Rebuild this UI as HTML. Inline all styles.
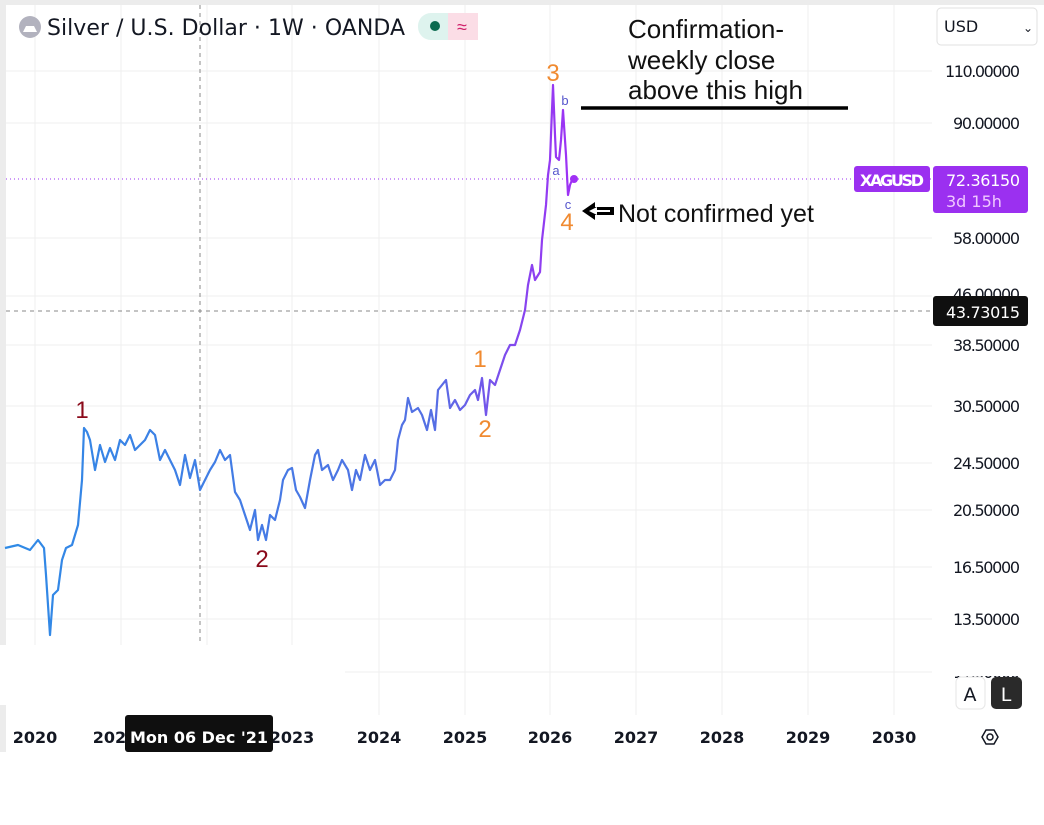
<!DOCTYPE html>
<html><head><meta charset="utf-8"><style>
body{margin:0;width:1044px;height:825px;background:#fff;overflow:hidden;font-family:"Liberation Sans",sans-serif}
</style></head><body>
<svg width="1044" height="825" xmlns="http://www.w3.org/2000/svg" style="position:absolute;left:0;top:0">
<defs><linearGradient id="g" gradientUnits="userSpaceOnUse" x1="0" y1="0" x2="575" y2="0">
<stop offset="0" stop-color="#2e8be6"/><stop offset="0.75" stop-color="#5470e4"/><stop offset="0.9" stop-color="#8447ee"/><stop offset="1" stop-color="#a030f5"/></linearGradient></defs>
<rect x="0" y="0" width="1044" height="5" fill="#ececec"/>
<rect x="0" y="0" width="6" height="645" fill="#ececec"/>
<rect x="0" y="705" width="6" height="47" fill="#ececec"/>
<g stroke="#efefef" stroke-width="1">
<line x1="35" y1="5" x2="35" y2="645"/><line x1="121" y1="5" x2="121" y2="645"/><line x1="207" y1="5" x2="207" y2="645"/>
<line x1="292" y1="5" x2="292" y2="645"/><line x1="379" y1="5" x2="379" y2="715"/><line x1="465" y1="5" x2="465" y2="715"/>
<line x1="550" y1="5" x2="550" y2="715"/><line x1="636" y1="5" x2="636" y2="715"/><line x1="722" y1="5" x2="722" y2="715"/>
<line x1="808" y1="5" x2="808" y2="715"/><line x1="894" y1="5" x2="894" y2="715"/>
<line x1="6" y1="71" x2="932" y2="71"/><line x1="6" y1="123" x2="932" y2="123"/><line x1="6" y1="238" x2="932" y2="238"/>
<line x1="6" y1="296" x2="932" y2="296"/><line x1="6" y1="345" x2="932" y2="345"/><line x1="6" y1="406" x2="932" y2="406"/>
<line x1="6" y1="463" x2="932" y2="463"/><line x1="6" y1="510" x2="932" y2="510"/><line x1="6" y1="567" x2="932" y2="567"/>
<line x1="6" y1="619" x2="932" y2="619"/><line x1="345" y1="672" x2="932" y2="672"/>
</g>
<line x1="200" y1="5" x2="200" y2="645" stroke="#888" stroke-dasharray="4,4"/>
<line x1="6" y1="311" x2="932" y2="311" stroke="#888" stroke-dasharray="4,4"/>
<line x1="6" y1="179" x2="932" y2="179" stroke="#9b30f0" stroke-dasharray="1,3"/>
<polyline fill="none" stroke="url(#g)" stroke-width="2.2" stroke-linejoin="round" points="5,548 18,545 30,550 38,540 44,548 46,575 50,635 53,595 58,590 62,560 66,548 72,545 78,525 82,480 84,428 87,432 90,440 95,470 100,445 105,462 110,448 115,460 120,440 125,445 130,435 135,450 140,445 145,440 150,430 155,435 160,460 165,450 170,460 175,470 180,485 185,455 190,478 195,460 200,490 205,480 210,470 215,462 220,450 225,460 230,455 235,492 240,500 245,515 250,530 255,510 258,540 262,525 266,540 270,515 275,520 280,500 283,480 288,470 292,468 296,490 300,497 305,508 310,480 315,455 318,450 322,470 328,465 333,480 338,470 342,460 348,470 352,490 356,470 360,480 365,455 370,470 375,460 380,485 385,480 390,480 395,470 398,440 402,425 405,420 408,398 412,412 418,408 422,415 427,430 431,410 435,430 438,390 442,385 446,380 450,408 455,400 460,410 465,405 470,395 475,390 478,400 482,378 486,415 490,380 495,385 500,370 505,355 510,345 515,345 520,330 525,310 528,285 532,265 535,280 540,272 542,240 546,205 548,175 550,160 553,85 555,135 556,157 559,160 561,140 563,110 566,155 568,195 570,185 572,180"/>
<circle cx="574" cy="179" r="4" fill="#a030f5"/>
<g font-size="24" text-anchor="middle">
<text x="82" y="418" fill="#8b0a1a">1</text><text x="262" y="567" fill="#8b0a1a">2</text>
<text x="480" y="367" fill="#f08a30">1</text><text x="485" y="437" fill="#f08a30">2</text>
<text x="553" y="81" fill="#f08a30">3</text><text x="567" y="230" fill="#f08a30">4</text>
</g>
<g font-size="13" fill="#5555cc" text-anchor="middle"><text x="556" y="175">a</text><text x="565" y="105">b</text><text x="568" y="209">c</text></g>
<g font-size="26" fill="#111"><text x="628" y="38">Confirmation-</text><text x="628" y="69">weekly close</text><text x="628" y="99">above this high</text><text x="618" y="222" font-size="25">Not confirmed yet</text></g>
<line x1="581" y1="108" x2="848" y2="108" stroke="#000" stroke-width="3.5"/>
<path d="M582,211 L595,202 L595,207 L614,207 L614,215 L595,215 L595,220 Z" fill="#000"/>
<path d="M589,211 L597,207 L597,210 L610,210 L610,212 L597,212 L597,215 Z" fill="#fff"/>
<!-- header -->
<circle cx="30" cy="27" r="11" fill="#b2b2be"/><path d="M23,32 L37,32 L34,26 L26,26 Z" fill="#fff"/>
<text x="47" y="35" font-size="22" fill="#131722" font-family="DejaVu Sans,sans-serif" textLength="358">Silver / U.S. Dollar · 1W · OANDA</text>
<rect x="418" y="13" width="60" height="27" rx="13" fill="#def3ee"/><rect x="448" y="13" width="30" height="27" rx="0" fill="#fbdde6"/><rect x="460" y="13" width="18" height="27" rx="13" fill="#fbdde6"/>
<circle cx="435" cy="26" r="5" fill="#0b6a4f"/><text x="462" y="33" font-size="18" fill="#d0206a" text-anchor="middle">≈</text>
<rect x="937" y="8" width="100" height="37" rx="4" fill="#fff" stroke="#e0e0e0"/>
<text x="944" y="32" font-size="16" fill="#131722" font-family="DejaVu Sans,sans-serif">USD</text><text x="1023" y="32" font-size="12" fill="#131722">⌄</text>
<!-- axis labels -->
<g font-size="16" fill="#131722" font-family="DejaVu Sans,sans-serif" text-anchor="end">
<text x="1020" y="77" textLength="75">110.00000</text><text x="1020" y="129" textLength="67">90.00000</text><text x="1020" y="244" textLength="67">58.00000</text>
<text x="1020" y="351" textLength="67">38.50000</text><text x="1020" y="412" textLength="67">30.50000</text><text x="1020" y="469" textLength="67">24.50000</text>
<text x="1020" y="516" textLength="67">20.50000</text><text x="1020" y="573" textLength="67">16.50000</text><text x="1020" y="625" textLength="67">13.50000</text>
<text x="1020" y="300" textLength="67">46.00000</text><text x="1020" y="678" textLength="67">11.00000</text>
</g>
<rect x="932" y="662" width="112" height="14" fill="#fff"/>
<rect x="854" y="166" width="76" height="26" rx="3" fill="#9b30f0"/>
<text x="892" y="186" font-size="16" font-weight="bold" fill="#fff" text-anchor="middle" font-family="DejaVu Sans,sans-serif" textLength="64">XAGUSD</text>
<rect x="933" y="166" width="95" height="47" rx="3" fill="#9b30f0"/>
<text x="946" y="186" font-size="16" fill="#fff" font-family="DejaVu Sans,sans-serif" textLength="74">72.36150</text>
<text x="946" y="207" font-size="16" fill="#f0c8ff" font-family="DejaVu Sans,sans-serif">3d 15h</text>
<rect x="933" y="296" width="95" height="30" rx="3" fill="#0f0f0f"/>
<text x="946" y="318" font-size="16" fill="#fff" font-family="DejaVu Sans,sans-serif" textLength="74">43.73015</text>
<rect x="956" y="677" width="29" height="32" rx="5" fill="#fff" stroke="#e6e6e6"/><text x="970" y="701" font-size="19" text-anchor="middle" fill="#131722" font-family="DejaVu Sans,sans-serif">A</text>
<rect x="991" y="677" width="31" height="32" rx="5" fill="#2a2a2a"/><text x="1006" y="701" font-size="19" text-anchor="middle" fill="#fff" font-family="DejaVu Sans,sans-serif">L</text>
<path d="M982,737 L986,730 L994,730 L998,737 L994,744 L986,744 Z" fill="none" stroke="#131722" stroke-width="1.5"/><circle cx="990" cy="737" r="3" fill="none" stroke="#131722" stroke-width="1.5"/>
<g font-size="16" font-weight="bold" fill="#131722" text-anchor="middle" font-family="DejaVu Sans,sans-serif">
<text x="35" y="743">2020</text><text x="115" y="743">2021</text><text x="292" y="743">2023</text><text x="379" y="743">2024</text>
<text x="465" y="743">2025</text><text x="550" y="743">2026</text><text x="636" y="743">2027</text><text x="722" y="743">2028</text>
<text x="808" y="743">2029</text><text x="894" y="743">2030</text></g>
<rect x="125" y="715" width="148" height="37" rx="3" fill="#0f0f0f"/>
<text x="199" y="743" font-size="16" font-weight="bold" fill="#fff" text-anchor="middle" font-family="DejaVu Sans,sans-serif">Mon 06 Dec '21</text>
</svg>
</body></html>
